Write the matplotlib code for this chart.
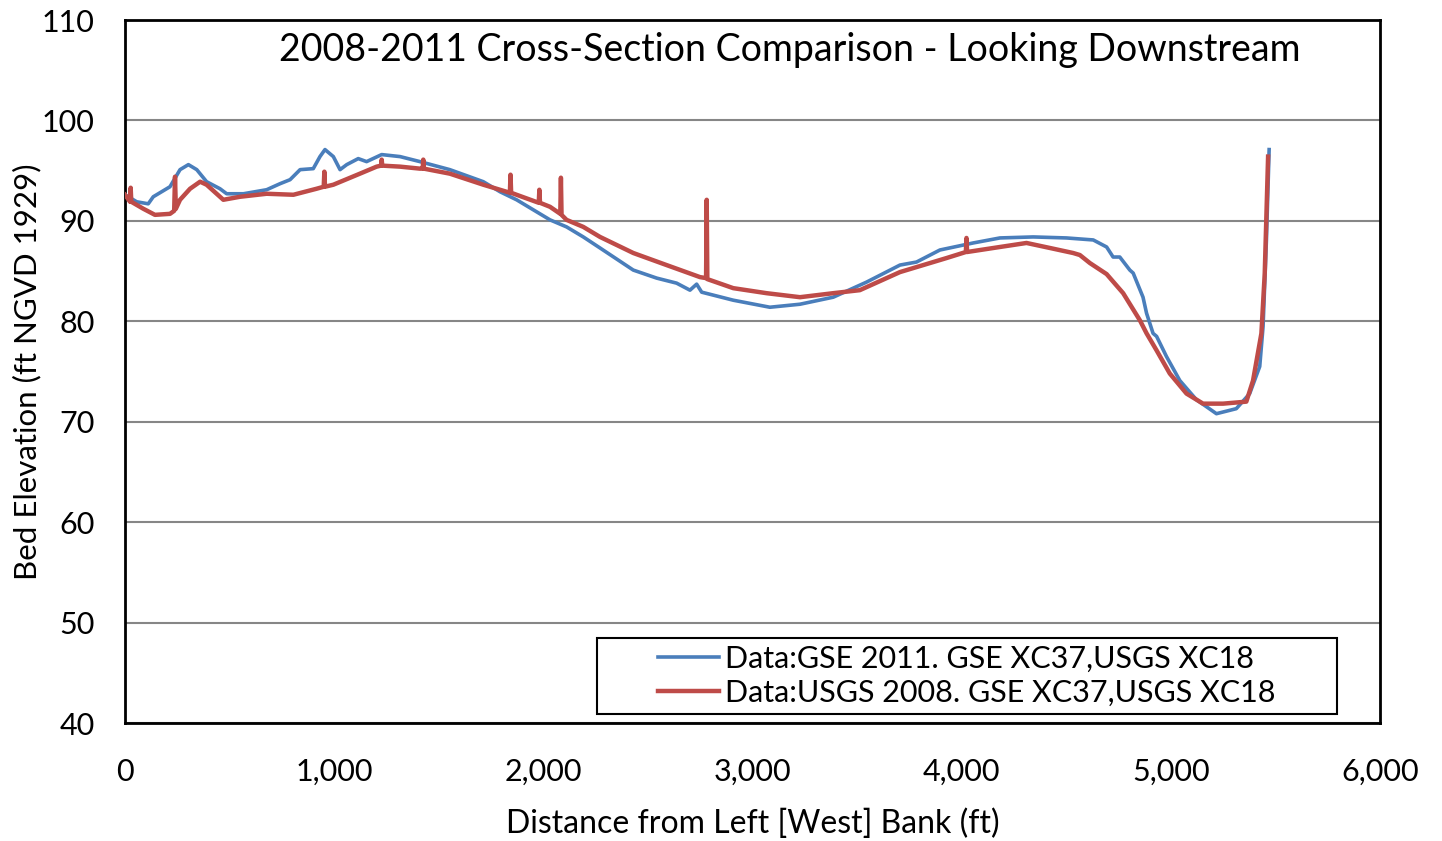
import matplotlib.pyplot as plt
from matplotlib.patches import Rectangle
from matplotlib.ticker import FuncFormatter

plt.rcParams['font.family'] = ['Lato', 'DejaVu Sans']

# GSE 2011 survey (blue)
gse_x = [0, 56, 111, 135, 215, 263, 303, 343, 390, 454, 486, 566, 677, 741, 789,
         837, 900, 932, 956, 996, 1028, 1060, 1115, 1155, 1227, 1315, 1410, 1553,
         1713, 1793, 1872, 2032, 2111, 2191, 2271, 2430, 2542, 2637, 2701, 2733,
         2757, 2908, 3083, 3227, 3386, 3545, 3705, 3784, 3896, 4055, 4183, 4342,
         4501, 4565, 4629, 4693, 4724, 4756, 4804, 4820, 4867, 4884, 4915, 4932,
         4979, 5043, 5122, 5218, 5313, 5377, 5425, 5441, 5457, 5470]
gse_y = [92.6, 91.9, 91.7, 92.4, 93.4, 95.1, 95.6, 95.1, 93.9, 93.2, 92.7, 92.7,
         93.1, 93.7, 94.1, 95.1, 95.2, 96.4, 97.1, 96.4, 95.1, 95.6, 96.2, 95.9,
         96.6, 96.4, 95.9, 95.1, 93.9, 92.9, 92.1, 90.1, 89.4, 88.4, 87.3, 85.1,
         84.3, 83.8, 83.1, 83.7, 82.9, 82.1, 81.4, 81.7, 82.4, 83.9, 85.6, 85.9,
         87.1, 87.8, 88.3, 88.4, 88.3, 88.2, 88.1, 87.4, 86.4, 86.4, 85.1, 84.8,
         82.4, 80.8, 78.8, 78.5, 76.5, 74.1, 72.2, 70.8, 71.3, 72.8, 75.5, 79.5,
         88.1, 97.1]

# USGS 2008 survey (red)
usgs_x = [0, 24, 27, 30, 88, 143, 215, 235, 239, 243, 263, 311, 359, 390, 470,
          550, 677, 805, 916, 950, 953, 956, 996, 1123, 1203, 1224, 1227, 1230,
          1315, 1410, 1423, 1426, 1429, 1553, 1713, 1840, 1843, 1846, 1872,
          1978, 1981, 1984, 2032, 2081, 2084, 2087, 2111, 2191, 2271, 2430,
          2589, 2749, 2778, 2781, 2784, 2908, 3067, 3227, 3386, 3513, 3705,
          3928, 4020, 4023, 4026, 4183, 4310, 4422, 4533, 4565, 4613, 4693,
          4772, 4852, 4884, 4932, 4995, 5075, 5154, 5250, 5361, 5393, 5433,
          5449, 5465]
usgs_y = [92.6, 91.9, 93.3, 91.9, 91.2, 90.6, 90.7, 91.0, 94.4, 91.2, 92.1,
          93.2, 93.9, 93.6, 92.1, 92.4, 92.7, 92.6, 93.2, 93.4, 94.9, 93.4,
          93.6, 94.7, 95.4, 95.5, 96.1, 95.5, 95.4, 95.2, 95.2, 96.1, 95.2,
          94.7, 93.6, 92.8, 94.6, 92.8, 92.6, 91.8, 93.1, 91.8, 91.4, 90.7,
          94.3, 90.6, 90.1, 89.4, 88.4, 86.8, 85.6, 84.4, 84.3, 92.1, 84.2,
          83.3, 82.8, 82.4, 82.8, 83.1, 84.9, 86.3, 86.9, 88.3, 86.9, 87.4,
          87.8, 87.3, 86.8, 86.6, 85.8, 84.7, 82.8, 80.1, 78.8, 77.1, 74.8,
          72.8, 71.8, 71.8, 72.0, 74.1, 78.8, 84.8, 96.4]

fig = plt.figure(figsize=(14.42, 8.41), dpi=100)
ax = fig.add_axes([0.0867, 0.1403, 0.8703, 0.8359])

ax.plot(gse_x, gse_y, color='#4a7ebb', lw=2.6, solid_joinstyle='round',
        label='Data:GSE 2011. GSE XC37,USGS XC18', zorder=3)
ax.plot(usgs_x, usgs_y, color='#be4b48', lw=3.2, solid_joinstyle='round',
        label='Data:USGS 2008. GSE XC37,USGS XC18', zorder=4)

ax.set_xlim(0, 6000)
ax.set_ylim(40, 110)
ax.set_xticks(range(0, 6001, 1000))
ax.set_yticks(range(40, 111, 10))
ax.xaxis.set_major_formatter(FuncFormatter(lambda v, p: f'{int(v):,}'))
ax.tick_params(length=0, labelsize=22)
ax.tick_params(axis='x', pad=25)
ax.tick_params(axis='y', pad=22)
ax.grid(axis='y', color='#868686', lw=1.5)
ax.set_axisbelow(True)
for s in ax.spines.values():
    s.set_color('black')
    s.set_linewidth(2)

ax.text(0.53, 0.957, '2008-2011 Cross-Section Comparison - Looking Downstream',
        transform=ax.transAxes, ha='center', va='center', fontsize=27)
ax.set_xlabel('Distance from Left [West] Bank (ft)', fontsize=23)
ax.set_ylabel('Bed Elevation (ft NGVD 1929)', fontsize=22.5)
ax.xaxis.set_label_coords(0.5, -0.122)
ax.yaxis.set_label_coords(-0.067, 0.5)

# legend box like the Excel one: fixed frame, entries centred inside
ax.add_patch(Rectangle((0.376, 0.0128), 0.59, 0.108, transform=ax.transAxes,
                       facecolor='white', edgecolor='black', lw=1.5, zorder=5))
leg = ax.legend(loc='center', bbox_to_anchor=(0.671, 0.0669), fontsize=22,
                frameon=False, handlelength=2.0, handletextpad=0.2,
                labelspacing=0.2, borderpad=0)
leg.set_zorder(6)

fig.savefig('out.png', dpi=100)
